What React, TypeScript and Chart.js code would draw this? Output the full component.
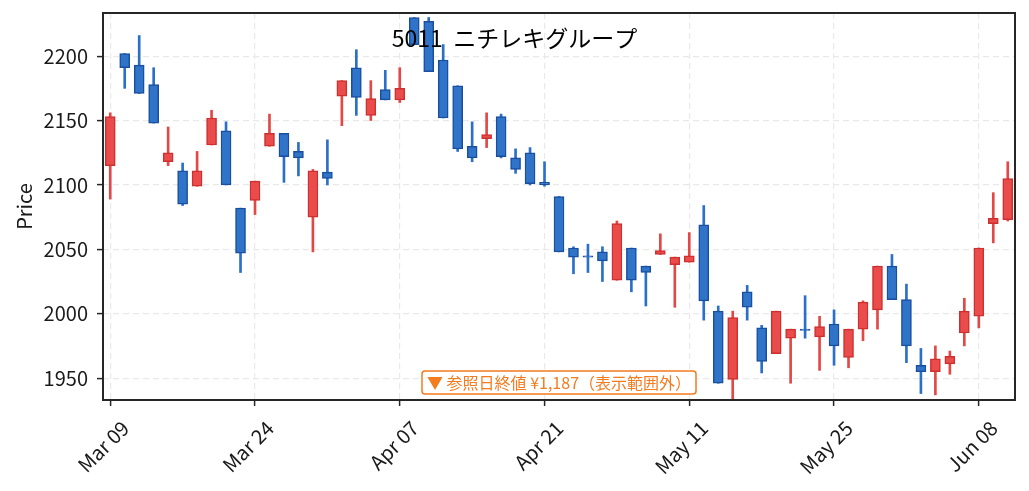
import React, { useEffect, useRef } from 'react';
import { Chart, registerables } from 'chart.js';

Chart.register(...registerables);

const dates = [
  'Mar 09', 'Mar 10', 'Mar 11', 'Mar 12', 'Mar 13', 'Mar 16', 'Mar 17', 'Mar 18', 'Mar 19', 'Mar 23',
  'Mar 24', 'Mar 25', 'Mar 26', 'Mar 27', 'Mar 30', 'Mar 31', 'Apr 01', 'Apr 02', 'Apr 03', 'Apr 06',
  'Apr 07', 'Apr 08', 'Apr 09', 'Apr 10', 'Apr 13', 'Apr 14', 'Apr 15', 'Apr 16', 'Apr 17', 'Apr 20',
  'Apr 21', 'Apr 22', 'Apr 23', 'Apr 24', 'Apr 27', 'Apr 28', 'Apr 30', 'May 01', 'May 07', 'May 08',
  'May 11', 'May 12', 'May 13', 'May 14', 'May 15', 'May 18', 'May 19', 'May 20', 'May 21', 'May 22',
  'May 25', 'May 26', 'May 27', 'May 28', 'May 29', 'Jun 01', 'Jun 02', 'Jun 03', 'Jun 04', 'Jun 05',
  'Jun 08', 'Jun 09', 'Jun 10',
];

const opens = [
  2115, 2202, 2193, 2178, 2118, 2111, 2099, 2131, 2142, 2082,
  2088, 2130, 2140, 2126, 2075, 2110, 2169, 2191, 2154, 2174,
  2166, 2230, 2227, 2197, 2177, 2130, 2136, 2153, 2121, 2125,
  2102, 2091, 2051, 2045, 2048, 2026, 2051, 2037, 2046, 2038,
  2040, 2069, 2002, 1949, 2017, 1989, 1969, 1981, 1988, 1982,
  1992, 1966, 1988, 2003, 2037, 2011, 1960, 1955, 1961, 1985,
  1998, 2070, 2073,
];

const highs = [
  2156, 2202, 2216, 2191, 2145, 2117, 2126, 2158, 2149, 2082,
  2103, 2155, 2140, 2133, 2112, 2135, 2181, 2205, 2181, 2189,
  2191, 2230, 2230, 2209, 2177, 2149, 2156, 2155, 2128, 2129,
  2118, 2091, 2052, 2054, 2052, 2072, 2051, 2037, 2062, 2044,
  2063, 2084, 2006, 2002, 2022, 1991, 2002, 1988, 2014, 1998,
  2003, 1988, 2010, 2037, 2046, 2023, 1973, 1975, 1971, 2012,
  2051, 2094, 2118,
];

const lows = [
  2089, 2175, 2171, 2148, 2115, 2084, 2099, 2131, 2100, 2032,
  2077, 2130, 2102, 2107, 2048, 2100, 2146, 2154, 2150, 2166,
  2164, 2209, 2188, 2152, 2126, 2118, 2129, 2121, 2109, 2100,
  2099, 2048, 2031, 2032, 2025, 2026, 2017, 2006, 2046, 2005,
  2040, 1995, 1946, 1934, 1995, 1954, 1969, 1946, 1981, 1956,
  1960, 1958, 1979, 1988, 2011, 1962, 1938, 1937, 1953, 1975,
  1989, 2055, 2072,
];

const closes = [
  2153, 2191, 2171, 2148, 2125, 2085, 2111, 2152, 2100, 2047,
  2103, 2140, 2122, 2121, 2111, 2105, 2181, 2168, 2167, 2166,
  2175, 2209, 2188, 2152, 2128, 2121, 2139, 2122, 2112, 2101,
  2100, 2048, 2044, 2044, 2041, 2070, 2026, 2032, 2049, 2044,
  2045, 2010, 1946, 1997, 2005, 1963, 2002, 1988, 1987, 1990,
  1975, 1988, 2009, 2037, 2011, 1975, 1955, 1965, 1967, 2002,
  2051, 2074, 2105,
];

const yTickValues = [1950, 2000, 2050, 2100, 2150, 2200];
const yMin = 1933;
const yMax = 2233.5;
const xTickEvery = 10;

const titleText = '5011  ニチレキグループ';
const noteText = '▼ 参照日終値 ¥1,187（表示範囲外）';
const yLabel = 'Price';

const FONT = '"Noto Sans CJK JP", "Noto Sans", sans-serif';
const RED = '#e94c4b';
const RED_EDGE = '#cf2f2e';
const RED_WICK = '#e24846';
const BLUE = '#2f74c9';
const BLUE_EDGE = '#1a4f9f';
const BLUE_WICK = '#2a6fc8';
const GRID = '#e9e9e9';
const AXIS = '#262626';
const TEXT = '#1a1a1a';
const ORANGE = '#f37b20';
const NONE = 'rgba(0,0,0,0)';

const zeroPad = (s: any) => {
  s.paddingTop = 0;
  s.paddingBottom = 0;
  s.paddingLeft = 0;
  s.paddingRight = 0;
};

export default function App() {
  const ref = useRef<HTMLCanvasElement>(null);

  useEffect(() => {
    const canvas = ref.current;
    if (!canvas) return;
    const up = closes.map((c, i) => c >= opens[i]);

    const overlay = {
      id: 'overlay',
      afterDraw(chart: any) {
        const { ctx, chartArea: a } = chart;
        ctx.save();
        ctx.strokeStyle = AXIS;
        ctx.lineWidth = 2;
        ctx.setLineDash([]);
        ctx.strokeRect(a.left, a.top, a.right - a.left, a.bottom - a.top);

        ctx.font = `23px ${FONT}`;
        ctx.fillStyle = '#000';
        ctx.textAlign = 'center';
        ctx.textBaseline = 'alphabetic';
        ctx.fillText(titleText, chart.width / 2, a.top + 34);

        ctx.font = `16px ${FONT}`;
        const tw = ctx.measureText(noteText).width;
        const cx = (a.left + a.right) / 2;
        const cy = a.bottom - 17.5;
        const w = tw + 10;
        const h = 23;
        ctx.beginPath();
        ctx.roundRect(cx - w / 2, cy - h / 2, w, h, 3);
        ctx.fillStyle = '#ffffff';
        ctx.fill();
        ctx.lineWidth = 1.5;
        ctx.strokeStyle = ORANGE;
        ctx.stroke();
        ctx.fillStyle = ORANGE;
        ctx.textAlign = 'center';
        ctx.textBaseline = 'middle';
        ctx.fillText(noteText, cx, cy + 0.5);
        ctx.restore();
      },
    };

    const chart = new Chart(canvas, {
      type: 'bar',
      data: {
        labels: dates,
        datasets: [
          {
            label: 'body',
            data: opens.map((o, i) => [o, closes[i]]) as any,
            backgroundColor: up.map((u) => (u ? RED : BLUE)),
            borderColor: up.map((u) => (u ? RED_EDGE : BLUE_EDGE)),
            borderWidth: 1.5,
            borderSkipped: false,
            barThickness: 10,
            grouped: false,
            order: 0,
          } as any,
          {
            label: 'wick',
            data: lows.map((l, i) => [l, highs[i]]) as any,
            backgroundColor: up.map((u) => (u ? RED_WICK : BLUE_WICK)),
            borderWidth: 0,
            barThickness: 2,
            grouped: false,
            order: 1,
          } as any,
        ],
      },
      options: {
        animation: false,
        responsive: false,
        devicePixelRatio: 1,
        layout: { padding: { left: 0, right: 14, top: 13, bottom: 0 }, autoPadding: false } as any,
        plugins: {
          legend: { display: false },
          tooltip: { enabled: false },
          title: { display: false },
        },
        scales: {
          x: {
            type: 'category',
            offset: true,
            grid: {
              offset: false,
              color: (c: any) => (c.index % xTickEvery === 0 ? GRID : NONE),
              lineWidth: 1.2,
              tickColor: (c: any) => (c.index % xTickEvery === 0 ? AXIS : NONE),
              tickLength: 6,
              tickWidth: 1.5,
            } as any,
            border: { display: false, dash: [6, 4] },
            ticks: {
              autoSkip: false,
              minRotation: 45,
              maxRotation: 45,
              color: TEXT,
              font: { family: FONT, size: 20 },
              labelOffset: 15,
              padding: 10,
              callback: (_v: any, i: number) => (i % xTickEvery === 0 ? dates[i] : ''),
            },
            afterFit: (s: any) => {
              s.height = 91;
              zeroPad(s);
            },
          } as any,
          y: {
            min: yMin,
            max: yMax,
            grid: {
              color: GRID,
              lineWidth: 1.2,
              tickColor: AXIS,
              tickLength: 6,
              tickWidth: 1.5,
            } as any,
            border: { display: false, dash: [6, 4] },
            ticks: {
              color: TEXT,
              font: { family: FONT, size: 20 },
              padding: 9,
              callback: (v: any) => String(v),
            },
            afterBuildTicks: (s: any) => {
              s.ticks = yTickValues.map((v) => ({ value: v }));
            },
            afterFit: (s: any) => {
              s.width = 103;
              zeroPad(s);
            },
            title: {
              display: true,
              text: yLabel,
              color: TEXT,
              font: { family: FONT, size: 20 },
              padding: { top: 12, bottom: 0 },
            },
          } as any,
        },
      },
      plugins: [overlay],
    });

    return () => chart.destroy();
  }, []);

  return (
    <div style={{ position: 'absolute', left: 0, top: 0, width: 1029, height: 491, background: '#fff' }}>
      <canvas ref={ref} width={1029} height={491} style={{ width: 1029, height: 491, display: 'block' }} />
    </div>
  );
}
